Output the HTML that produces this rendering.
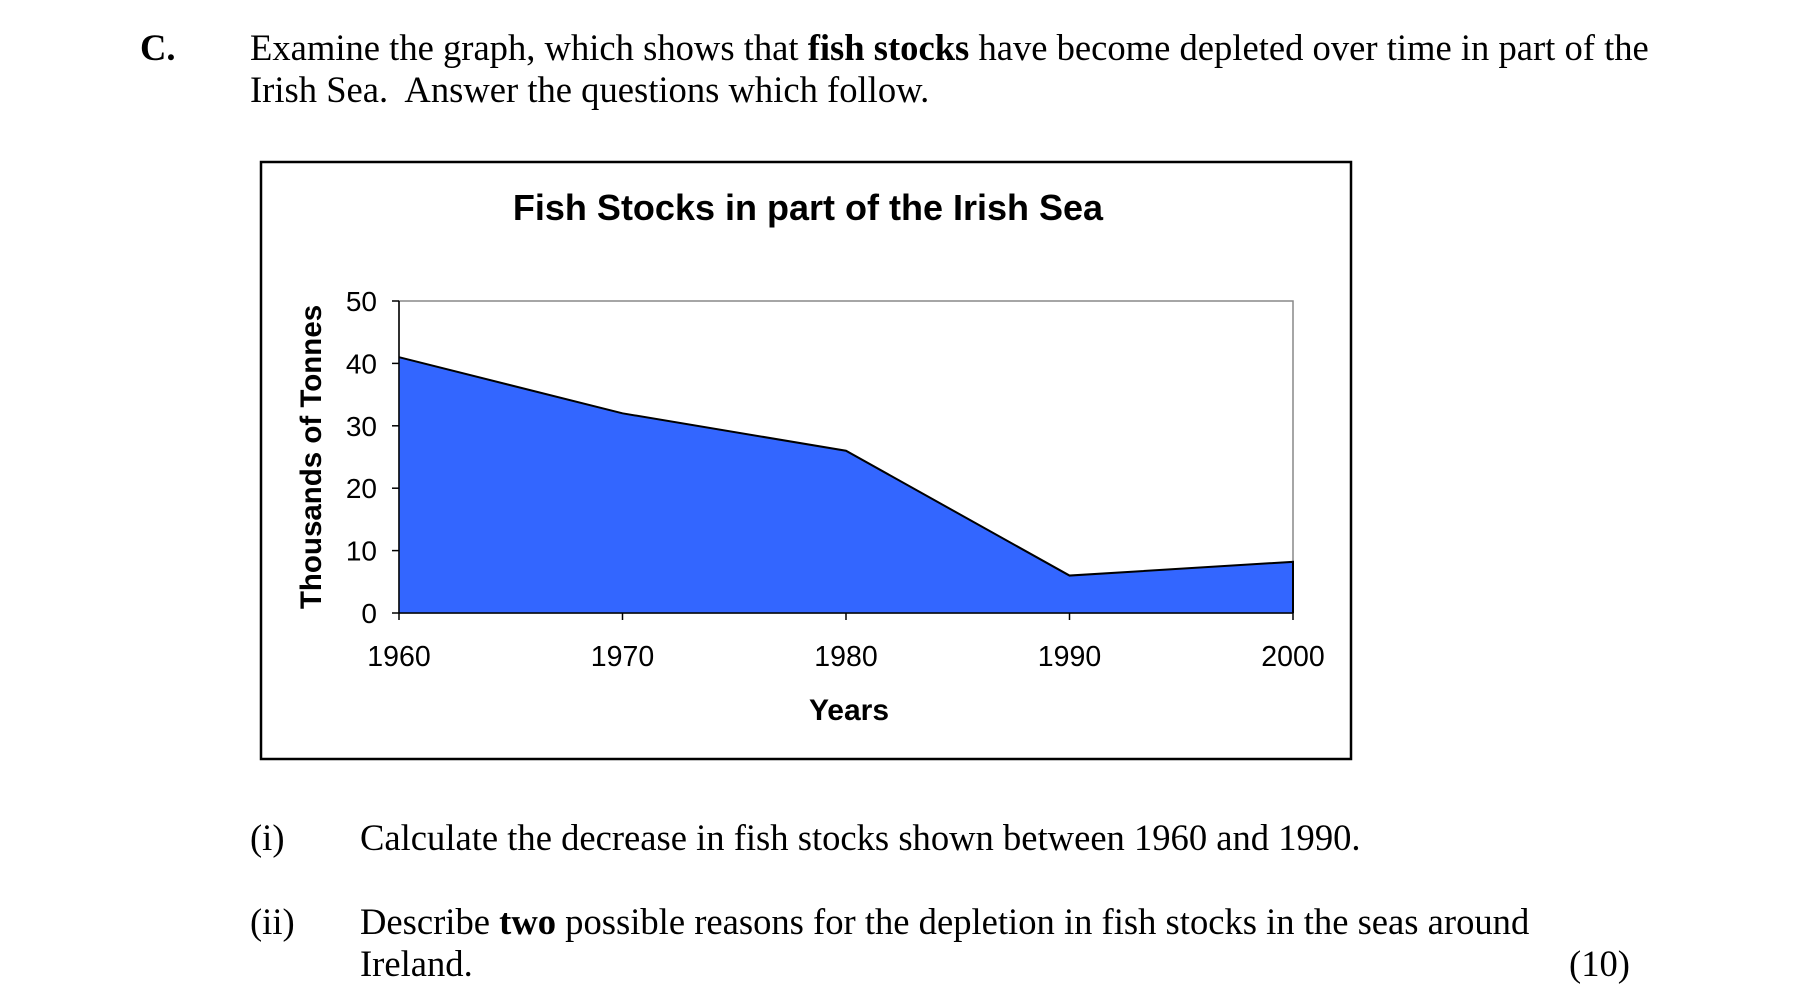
<!DOCTYPE html>
<html><head><meta charset="utf-8"><style>
body{margin:0;width:1818px;height:996px;background:#fff;position:relative;overflow:hidden;font-family:"Liberation Serif",serif;color:#000}
.t{position:absolute;font-size:36.6px;white-space:nowrap;line-height:1}
</style></head><body>
<div class="t" style="left:140px;top:30px;font-weight:bold">C.</div>
<div class="t" style="left:250px;top:30px">Examine the graph, which shows that <b>fish stocks</b> have become depleted over time in part of the</div>
<div class="t" style="left:250px;top:72px">Irish Sea.&nbsp; Answer the questions which follow.</div>

<svg style="position:absolute;left:0;top:0" width="1818" height="996" font-family="Liberation Sans, sans-serif">
<rect x="261" y="162" width="1090" height="597" fill="#fff" stroke="#000" stroke-width="2.5"/>
<text x="808" y="220" text-anchor="middle" font-size="36" font-weight="bold">Fish Stocks in part of the Irish Sea</text>
<rect x="399" y="301" width="894" height="312" fill="#fff" stroke="#888" stroke-width="1.5"/>
<g id="g"></g>
<text transform="translate(321,457) rotate(-90)" text-anchor="middle" font-size="29.5" font-weight="bold">Thousands of Tonnes</text>
<text x="849" y="720" text-anchor="middle" font-size="30" font-weight="bold">Years</text>
</svg>

<div class="t" style="left:250px;top:820px">(i)</div>
<div class="t" style="left:360px;top:820px">Calculate the decrease in fish stocks shown between 1960 and 1990.</div>
<div class="t" style="left:250px;top:904px">(ii)</div>
<div class="t" style="left:360px;top:904px">Describe <b>two</b> possible reasons for the depletion in fish stocks in the seas around</div>
<div class="t" style="left:360px;top:946px">Ireland.</div>
<div class="t" style="right:188px;top:946px">(10)</div>

<script>
const years = ["1960","1970","1980","1990","2000"];
const stocks = [41, 32, 26, 6, 8.2];
const yTicks = [0,10,20,30,40,50];
const NS="http://www.w3.org/2000/svg";
const L=399,R=1293,T=301,B=613;
const x=i=>L+(R-L)*i/(years.length-1);
const y=v=>B-(B-T)*v/50;
const g=document.getElementById('g');
function mk(t,a){const e=document.createElementNS(NS,t);for(const k in a)e.setAttribute(k,a[k]);g.appendChild(e);return e;}
let pts=stocks.map((v,i)=>x(i)+','+y(v));
const area=mk('polygon',{points:L+','+B+' '+pts.join(' ')+' '+R+','+B,fill:'#3366ff'});


const line=mk('polyline',{points:pts.join(' ')+' '+R+','+B,fill:'none',stroke:'#000','stroke-width':2});


mk('line',{x1:L,y1:T,x2:L,y2:B,stroke:'#000','stroke-width':1.5});
mk('line',{x1:L,y1:B,x2:R,y2:B,stroke:'#000','stroke-width':1.5});
yTicks.forEach(v=>{
 mk('line',{x1:L-7,y1:y(v),x2:L,y2:y(v),stroke:'#000','stroke-width':1.5});
 const t=mk('text',{x:377,y:y(v)+10,'text-anchor':'end','font-size':28});t.textContent=v;
 
 
});
years.forEach((yr,i)=>{
 mk('line',{x1:x(i),y1:B,x2:x(i),y2:B+7,stroke:'#000','stroke-width':1.5});
 const t=mk('text',{x:x(i),y:666,'text-anchor':'middle','font-size':28.5});t.textContent=yr;
 
 
});
</script>
</body></html>
